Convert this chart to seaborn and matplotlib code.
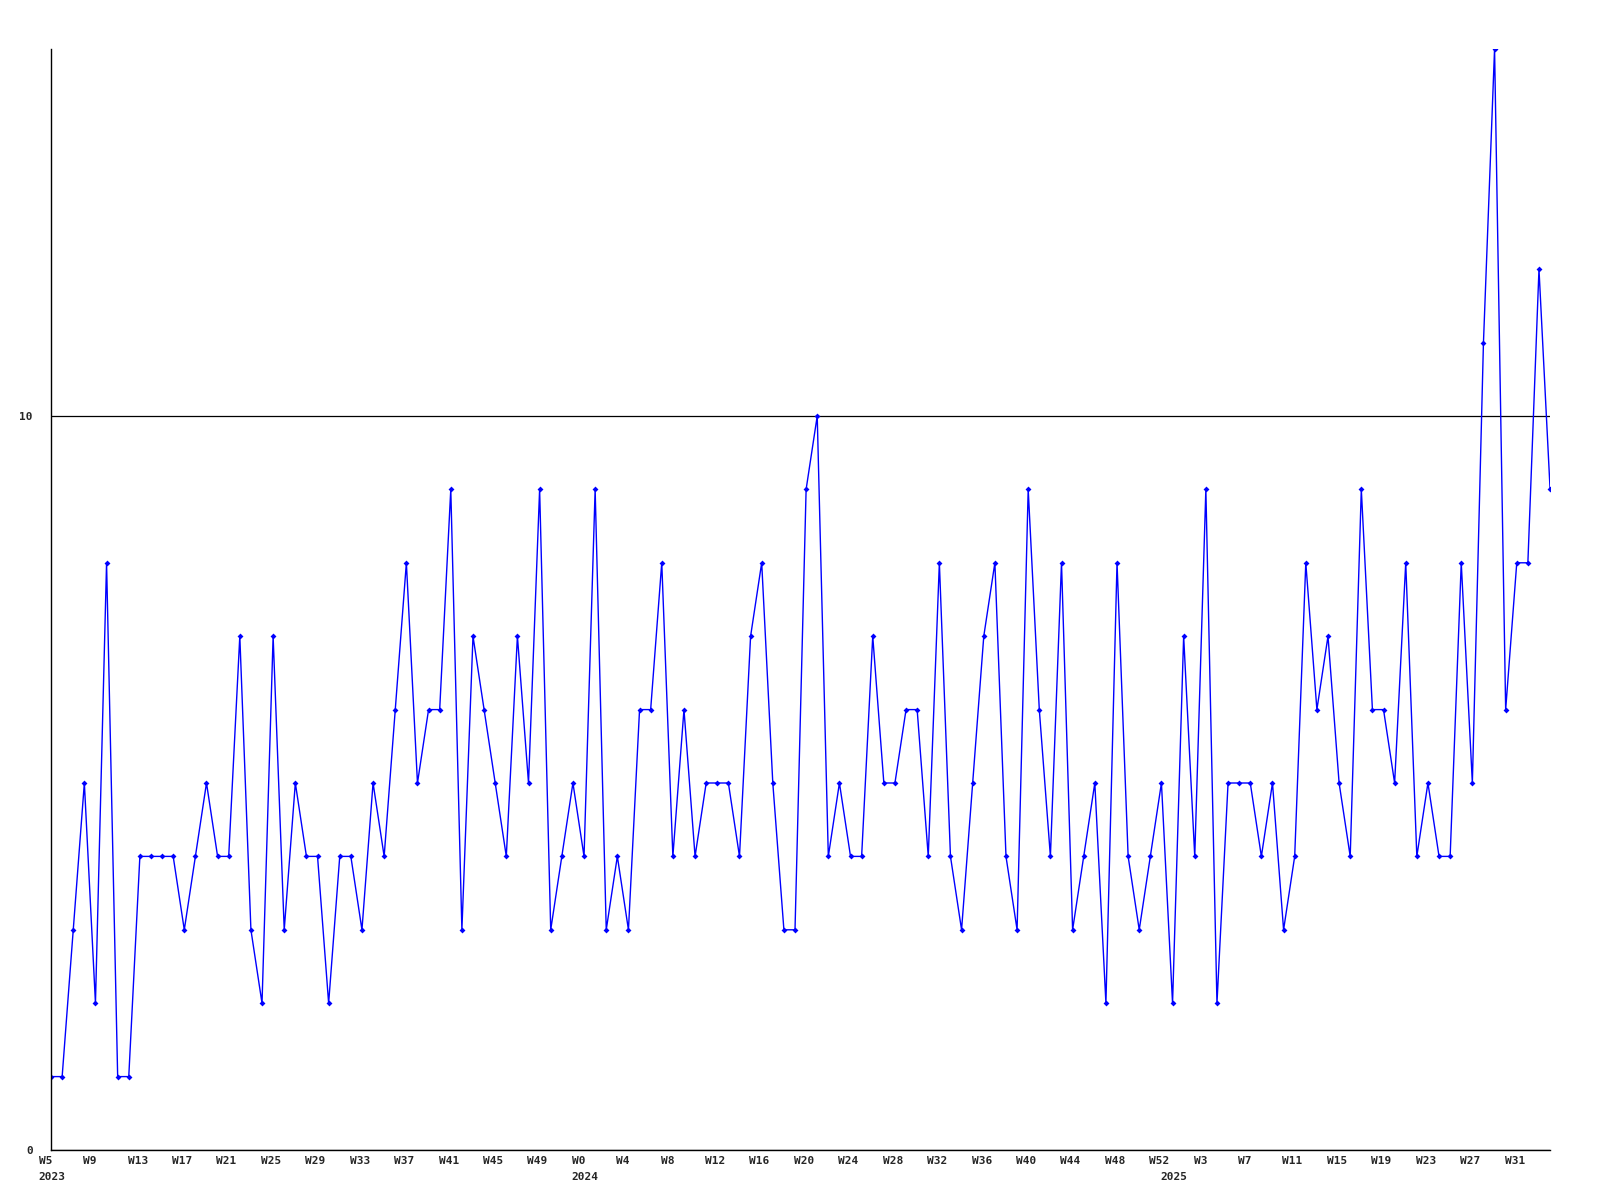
import seaborn as sns
from matplotlib import pyplot as plt
import pandas as pd

# weekly counts, 2023 W5 .. 2025 W34
counts = [1, 1, 3, 5, 2, 8, 1, 1, 4, 4, 4, 4, 3, 4, 5, 4, 4, 7, 3, 2,
          7, 3, 5, 4, 4, 2, 4, 4, 3, 5, 4, 6, 8, 5, 6, 6, 9, 3, 7, 6,
          5, 4, 7, 5, 9, 3, 4, 5, 4, 9, 3, 4, 3, 6, 6, 8, 4, 6, 4, 5,
          5, 5, 4, 7, 8, 5, 3, 3, 9, 10, 4, 5, 4, 4, 7, 5, 5, 6, 6, 4,
          8, 4, 3, 5, 7, 8, 4, 3, 9, 6, 4, 8, 3, 4, 5, 2, 8, 4, 3, 4,
          5, 2, 7, 4, 9, 2, 5, 5, 5, 4, 5, 3, 4, 8, 6, 7, 5, 4, 9, 6,
          6, 5, 8, 4, 5, 4, 4, 8, 5, 11, 15, 6, 8, 8, 12, 9]

year_weeks = {2023: range(5, 53), 2024: range(0, 53), 2025: range(0, 35)}
weeks = [w for y in year_weeks for w in year_weeks[y]]
years = [y for y in year_weeks for w in year_weeks[y]]

y_ticks = [0, 10]
tick_step = 4

df = pd.DataFrame({"idx": range(len(counts)), "count": counts,
                   "week": weeks, "year": years})

sns.set_style("white")
plt.rcParams['font.family'] = ['DejaVu Sans Mono']
plt.rcParams['font.weight'] = 'bold'

fig = plt.figure(figsize=(16, 12), dpi=100)
ax = fig.add_axes([0.0319, 0.04167, 0.9369, 0.9175])

sns.lineplot(data=df, x="idx", y="count", color="#0000ff", linewidth=1.0,
             marker="D", markersize=3, markeredgewidth=0, ax=ax)

ax.set_xlim(0, len(counts) - 1)
ax.set_ylim(0, 15)

ax.set_yticks(y_ticks)
ax.set_yticklabels([str(v) for v in y_ticks], fontsize=8, fontweight='bold')
ax.yaxis.grid(True, color='black', linewidth=0.9)
ax.xaxis.grid(False)

# week labels start a little left of their point
ax.set_xticks([])
label_kw = dict(xycoords=('data', 'axes fraction'), textcoords='offset points',
                ha='left', va='top', fontsize=8, fontweight='bold',
                annotation_clip=False)
for i in range(0, len(counts), tick_step):
    ax.annotate(f"W{weeks[i]}", xy=(i, 0), xytext=(-8.8, -4), **label_kw)

# year under the first week of each year
for i, y in enumerate(years):
    if i == 0 or years[i - 1] != y:
        ax.annotate(str(y), xy=(i, 0), xytext=(-8.8, -15.5), **label_kw)

ax.tick_params(axis='both', length=0)
ax.tick_params(axis='y', pad=13)
ax.set_xlabel('')
ax.set_ylabel('')

for s in ['top', 'right']:
    ax.spines[s].set_visible(False)
for s in ['left', 'bottom']:
    ax.spines[s].set_color('black')
    ax.spines[s].set_linewidth(1.0)

plt.savefig("out.png", dpi=100)
plt.close()
